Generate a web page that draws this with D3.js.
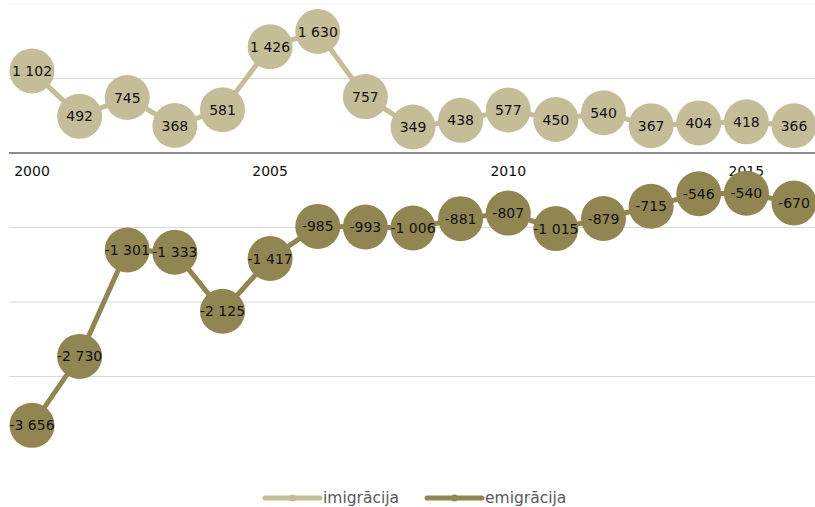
<!DOCTYPE html>
<html>
<head>
<meta charset="utf-8">
<script src="https://cdn.jsdelivr.net/npm/d3@7"></script>
<style>
  body { margin: 0; background: #fff; }
  svg { font-family: "DejaVu Sans", Verdana, sans-serif; }
</style>
</head>
<body>
<div id="chart"></div>
<script>
const WIDTH = 815;
const HEIGHT = 507;

// dati
const years = d3.range(2000, 2017);
const imigracija = [1102, 492, 745, 368, 581, 1426, 1630, 757, 349, 438, 577, 450, 540, 367, 404, 418, 366];
const emigracija = [-3656, -2730, -1301, -1333, -2125, -1417, -985, -993, -1006, -881, -807, -1015, -879, -715, -546, -540, -670];
const gridValues = [2000, 1000, -1000, -2000, -3000];
const tickYears = [2000, 2005, 2010, 2015];
const seriesNames = ["imigrācija", "emigrācija"];
const colors = ["#c5bd97", "#918651"];

const svg = d3.select("#chart")
    .append("svg")
    .attr("width", WIDTH)
    .attr("height", HEIGHT);

const x = d3.scaleLinear().domain([2000, 2016]).range([32, 794]);
const y = d3.scaleLinear().domain([0, 1000]).range([153, 78.5]);

const locale = d3.formatLocale({ decimal: ",", thousands: " ", grouping: [3], currency: ["", ""], minus: "-" });
const fmt = locale.format(",d");

// rezgis
svg.append("g")
    .selectAll("line")
    .data(gridValues)
    .enter().append("line")
    .attr("x1", 9)
    .attr("x2", WIDTH)
    .attr("y1", d => y(d))
    .attr("y2", d => y(d))
    .attr("stroke", d => d === 2000 ? "#f2f2f2" : "#d9d9d9")
    .attr("stroke-width", 1);

// nulles ass
svg.append("line")
    .attr("x1", 9)
    .attr("x2", WIDTH)
    .attr("y1", y(0))
    .attr("y2", y(0))
    .attr("stroke", "#8c8c8c")
    .attr("stroke-width", 2);

svg.append("g")
    .selectAll("text")
    .data(tickYears)
    .enter().append("text")
    .attr("x", d => x(d))
    .attr("y", y(0) + 23)
    .attr("text-anchor", "middle")
    .attr("font-size", 14)
    .attr("fill", "#111")
    .text(d => d);

const line = d3.line()
    .x((d, i) => x(years[i]))
    .y(d => y(d));

[imigracija, emigracija].forEach(function(values, s) {
    const g = svg.append("g");
    g.append("path")
        .datum(values)
        .attr("d", line)
        .attr("fill", "none")
        .attr("stroke", colors[s])
        .attr("stroke-width", 5);

    const pts = g.selectAll("g.pt")
        .data(values)
        .enter().append("g")
        .attr("transform", (d, i) => `translate(${x(years[i])},${y(d)})`);

    pts.append("circle")
        .attr("r", 22.5)
        .attr("fill", colors[s]);

    pts.append("text")
        .attr("text-anchor", "middle")
        .attr("dy", "0.36em")
        .attr("font-size", 14)
        .attr("fill", "#111")
        .text(d => fmt(d));
});

// legenda
const legendX = [265, 427];
const legend = svg.append("g")
    .selectAll("g")
    .data(seriesNames)
    .enter().append("g")
    .attr("transform", (d, i) => `translate(${legendX[i]},498)`);

legend.append("line")
    .attr("x1", 0)
    .attr("x2", 55)
    .attr("stroke", (d, i) => colors[i])
    .attr("stroke-width", 5)
    .attr("stroke-linecap", "round");

legend.append("circle")
    .attr("cx", 27.5)
    .attr("r", 3.5)
    .attr("fill", (d, i) => colors[i]);

legend.append("text")
    .attr("x", 58)
    .attr("dy", "0.35em")
    .attr("font-size", 15.5)
    .attr("fill", "#595959")
    .text(d => d);
</script>
</body>
</html>
